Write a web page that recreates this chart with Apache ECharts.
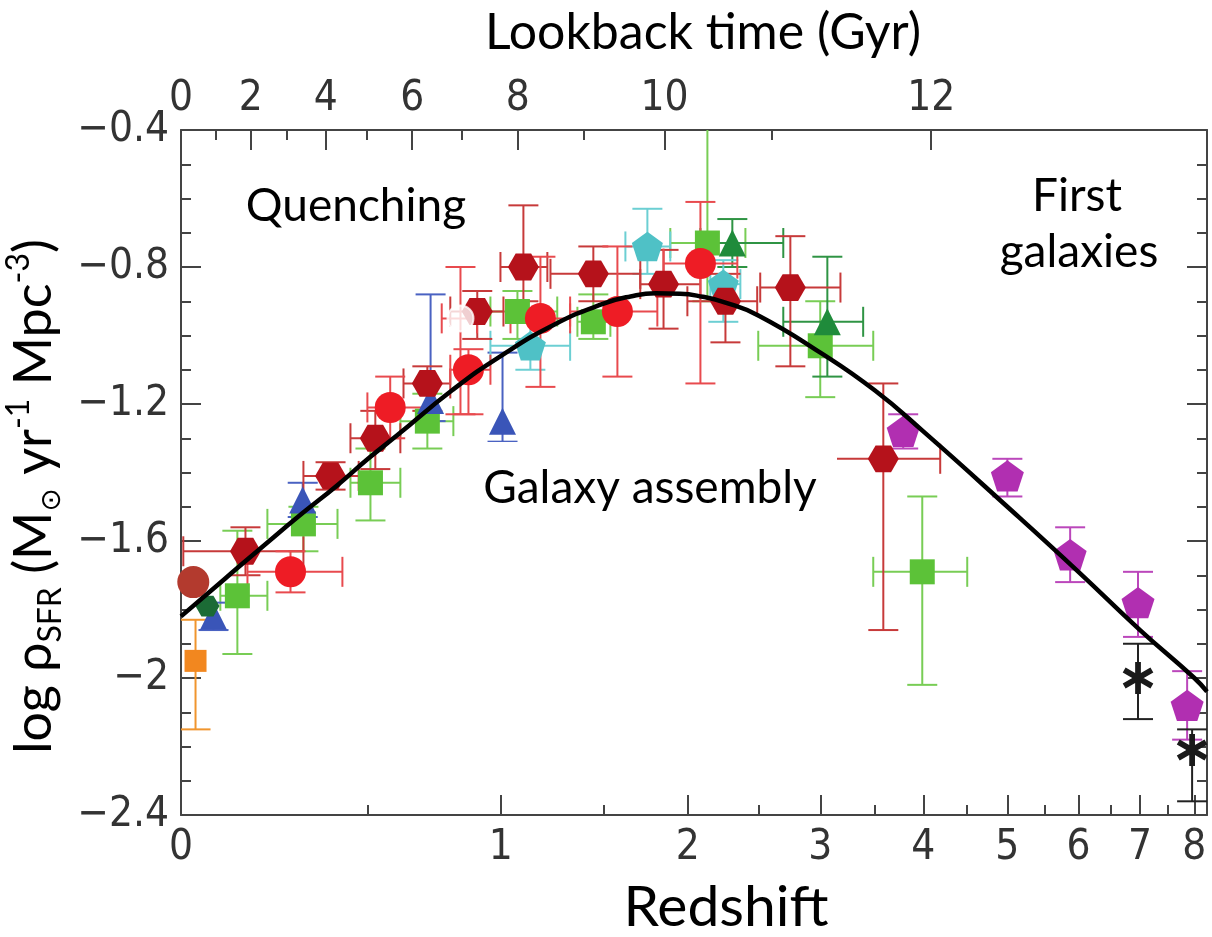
<!DOCTYPE html>
<html>
<head>
<meta charset="utf-8">
<title>Cosmic star formation history</title>
<script src="https://cdn.jsdelivr.net/npm/echarts@6/dist/echarts.min.js"></script>
<style>
  html, body { margin: 0; padding: 0; background: #fff; }
  #main { width: 1212px; height: 937px; }
</style>
</head>
<body>
<div id="main"></div>
<script>
// axis ticks
const zTicks = [0, 1, 2, 3, 4, 5, 6, 7, 8];
const zMinorTicks = [0.5, 1.5, 2.5, 3.5, 4.5, 5.5, 6.5, 7.5];
const zMax = 8.25;
const lookbackGyr = [0, 2, 4, 6, 8, 10, 12];
const lookbackZ = [0, 0.163, 0.369, 0.651, 1.075, 1.853, 4.087];
const lookbackMinorZ = [0.078, 0.259, 0.497, 0.837, 1.393, 2.598];
const yTickMin = -2.4;
const yTickMax = -0.4;
const yTickStep = 0.4;

// best fit curve (log SFRD against redshift)
const curveZ = [0, 0.1, 0.2, 0.3, 0.4, 0.5, 0.6, 0.8, 1.0, 1.25, 1.5, 1.65, 1.8, 1.95, 2.1, 2.25, 2.5, 3.0, 3.5, 4.0, 5.0, 6.0, 7.0, 8.0, 8.25];
const curveLog = [-1.82, -1.71, -1.61, -1.52, -1.44, -1.36, -1.29, -1.16, -1.06, -0.967, -0.907, -0.886, -0.877, -0.878, -0.887, -0.903, -0.942, -1.05, -1.16, -1.28, -1.50, -1.69, -1.86, -2.00, -2.04];

// rows: [z, log SFRD, z low, z high, log low, log high]  (null = no bar)
const redCircles = [
  [0.268, -1.69, 0.155, 0.419, -1.63, -1.75],
  [0.574, -1.21, 0.498, 0.729, -1.12, -1.30],
  [0.865, -1.10, 0.793, 0.956, -1.04, -1.23],
  [1.180, -0.95, 1.043, 1.325, -0.77, -1.15],
  [1.576, -0.93, 1.325, 1.809, -0.74, -1.12],
  [2.084, -0.79, 1.847, 2.341, -0.61, -1.14]
];
const darkRedHex = [
  [0.150, -1.63, 0.005, 0.304, -1.56, -1.70],
  [0.383, -1.41, 0.304, 0.470, -1.37, -1.45],
  [0.524, -1.30, 0.444, 0.609, -1.22, -1.39],
  [0.706, -1.14, 0.620, 0.793, -1.09, -1.22],
  [0.901, -0.93, 0.793, 1.012, -0.87, -1.01],
  [1.101, -0.80, 0.999, 1.213, -0.62, -0.90],
  [1.445, -0.82, 1.228, 1.707, -0.74, -0.90],
  [1.847, -0.85, 1.707, 2.084, -0.75, -0.98],
  [2.256, -0.90, 1.998, 2.488, -0.82, -1.02],
  [2.748, -0.86, 2.511, 3.178, -0.71, -1.09],
  [3.585, -1.36, 3.000, 4.187, -1.14, -1.86]
];
const openRedCircles = [
  [0.833, -0.95, 0.760, 0.900, -0.80, -1.23]
];
const greenSquares = [
  [0.130, -1.76, 0.089, 0.206, -1.57, -1.93],
  [0.304, -1.55, 0.206, 0.404, -1.50, -1.63],
  [0.508, -1.43, 0.444, 0.609, -1.33, -1.54],
  [0.706, -1.25, 0.609, 0.805, -1.17, -1.33],
  [1.074, -0.93, 0.956, 1.261, -0.87, -1.01],
  [1.445, -0.96, 1.362, 1.537, -0.88, -1.01],
  [2.131, -0.73, 1.889, 2.400, -0.35, -0.90],
  [2.999, -1.03, 2.496, 3.486, -0.90, -1.18],
  [3.989, -1.69, 3.486, 4.500, -1.47, -2.02]
];
const darkGreenTri = [
  [2.305, -0.73, 2.084, 2.691, -0.66, -0.80],
  [3.061, -0.96, 2.691, 3.389, -0.77, -1.12]
];
const darkGreenHex = [
  [0.059, -1.79, null, null, null, null]
];
const blueTri = [
  [0.073, -1.82, null, null, -1.78, -1.86],
  [0.302, -1.48, null, null, -1.43, -1.53],
  [0.718, -1.19, null, null, -0.88, -1.25],
  [1.008, -1.25, null, null, -1.05, -1.31]
];
const cyanPent = [
  [1.749, -0.74, 1.621, 1.889, -0.63, -0.82],
  [2.241, -0.85, 2.151, 2.363, -0.78, -0.96],
  [1.133, -1.03, 0.956, 1.325, -0.95, -1.10]
];
const magentaPent = [
  [3.787, -1.28, null, null, -1.23, -1.33],
  [5.000, -1.41, null, null, -1.36, -1.47],
  [5.875, -1.64, null, null, -1.56, -1.72],
  [6.965, -1.78, null, null, -1.69, -1.88],
  [7.860, -2.08, null, null, -1.98, -2.18]
];
const blackStars = [
  [6.965, -2.00, null, null, -1.90, -2.12],
  [7.956, -2.21, null, null, -2.15, -2.36]
];
const orangeSquares = [
  [0.032, -1.95, null, null, -1.83, -2.15]
];
const brownCircles = [
  [0.027, -1.72, null, null, null, null]
];

const lz = z => Math.log10(1 + z);

const HEX = 'path://M-5,-8.66L5,-8.66L10,0L5,8.66L-5,8.66L-10,0Z';
const PENT = 'path://M0,-10L9.51,-3.09L5.88,8.09L-5.88,8.09L-9.51,-3.09Z';
const STAR = 'path://M-1.8,-10L1.8,-10L1.8,10L-1.8,10Z' +
  'M-9.56,-3.44L-7.76,-6.56L9.56,3.44L7.76,6.56Z' +
  'M7.76,-6.56L9.56,-3.44L-7.76,6.56L-9.56,3.44Z';

// error bars with caps, drawn through the axis scales
function barSeries(rows, color) {
  return {
    type: 'custom',
    clip: true,
    silent: true,
    z: 1,
    data: rows.map(r => [lz(r[0]), r[1]]),
    renderItem: function (params, api) {
      const r = rows[params.dataIndex];
      const x = lz(r[0]);
      const cap = 15;
      const style = { stroke: color, lineWidth: 2 };
      const kids = [];
      const seg = (x1, y1, x2, y2) => kids.push({ type: 'line', shape: { x1, y1, x2, y2 }, style });
      if (r[4] != null) {
        const a = api.coord([x, r[4]]);
        const b = api.coord([x, r[5]]);
        seg(a[0], a[1], b[0], b[1]);
        seg(a[0] - cap, a[1], a[0] + cap, a[1]);
        seg(b[0] - cap, b[1], b[0] + cap, b[1]);
      }
      if (r[2] != null) {
        const a = api.coord([lz(r[2]), r[1]]);
        const b = api.coord([lz(r[3]), r[1]]);
        seg(a[0], a[1], b[0], b[1]);
        seg(a[0], a[1] - cap, a[0], a[1] + cap);
        seg(b[0], b[1] - cap, b[0], b[1] + cap);
      }
      return { type: 'group', children: kids };
    }
  };
}

function markSeries(rows, symbol, size, color, extra) {
  return Object.assign({
    type: 'scatter',
    symbol: symbol,
    symbolSize: size,
    symbolKeepAspect: true,
    silent: true,
    z: 3,
    data: rows.map(r => [lz(r[0]), r[1]]),
    itemStyle: { color: color, opacity: 1 }
  }, extra || {});
}

const axisLine = { color: '#444', width: 2 };
const tickFont = {
  fontFamily: '"Liberation Sans Narrow", "DejaVu Sans Condensed", "Liberation Sans", sans-serif',
  fontSize: 42,
  color: '#333'
};
const textFont = 'Lato, "Open Sans", sans-serif';

const option = {
  backgroundColor: '#fff',
  animation: false,
  grid: { left: 181, right: 5, top: 130, bottom: 122, containLabel: false, outerBoundsMode: 'none' },
  xAxis: [
    {
      type: 'value', position: 'bottom', min: 0, max: lz(zMax),
      axisLine: { show: true, onZero: false, lineStyle: axisLine },
      axisTick: { show: true, inside: true, length: 20, lineStyle: axisLine, customValues: zTicks.map(lz) },
      axisLabel: Object.assign({
        customValues: zTicks.map(lz), margin: 12,
        formatter: v => String(Math.round(Math.pow(10, v) - 1))
      }, tickFont),
      splitLine: { show: false }
    },
    {
      type: 'value', position: 'bottom', min: 0, max: lz(zMax),
      axisLine: { show: false, onZero: false },
      axisTick: { show: true, inside: true, length: 10, lineStyle: axisLine, customValues: zMinorTicks.map(lz) },
      axisLabel: { show: false },
      splitLine: { show: false }
    },
    {
      type: 'value', position: 'top', min: 0, max: lz(zMax),
      axisLine: { show: true, onZero: false, lineStyle: axisLine },
      axisTick: { show: true, inside: true, length: 20, lineStyle: axisLine, customValues: lookbackZ.map(lz) },
      axisLabel: Object.assign({
        customValues: lookbackZ.map(lz), margin: 10,
        formatter: v => {
          let best = 0;
          lookbackZ.forEach((z, i) => {
            if (Math.abs(lz(z) - v) < Math.abs(lz(lookbackZ[best]) - v)) best = i;
          });
          return String(lookbackGyr[best]);
        }
      }, tickFont),
      splitLine: { show: false }
    },
    {
      type: 'value', position: 'top', min: 0, max: lz(zMax),
      axisLine: { show: false, onZero: false },
      axisTick: { show: true, inside: true, length: 10, lineStyle: axisLine, customValues: lookbackMinorZ.map(lz) },
      axisLabel: { show: false },
      splitLine: { show: false }
    }
  ],
  yAxis: [
    {
      type: 'value', position: 'left', min: yTickMin, max: yTickMax, interval: yTickStep,
      axisLine: { show: true, onZero: false, lineStyle: axisLine },
      axisTick: { show: true, inside: true, length: 20, lineStyle: axisLine },
      minorTick: { show: true, splitNumber: 4, length: 10, lineStyle: axisLine },
      axisLabel: Object.assign({
        margin: 12,
        formatter: v => String(Math.round(v * 10) / 10).replace('-', '\u2212')
      }, tickFont),
      splitLine: { show: false },
      minorSplitLine: { show: false },
      name: '{t|log }{r|\u03c1}{sub|SFR}{t| (M}{sun|\u2299}{t| yr}{sup|-1}{t| Mpc}{sup|-3}{t|)}',
      nameLocation: 'middle',
      nameRotate: 90,
      nameGap: 104,
      nameTextStyle: {
        padding: [0, 48, 0, 0],
        rich: {
          t: { fontFamily: textFont, fontSize: 52, color: '#000', lineHeight: 64, verticalAlign: 'middle' },
          r: { fontFamily: 'Lato, "DejaVu Sans", sans-serif', fontSize: 52, color: '#000', lineHeight: 64, verticalAlign: 'middle' },
          sub: { fontFamily: textFont, fontSize: 32, color: '#000', lineHeight: 30, verticalAlign: 'bottom' },
          sun: { fontFamily: '"DejaVu Sans", sans-serif', fontSize: 28, color: '#000', lineHeight: 30, verticalAlign: 'bottom' },
          sup: { fontFamily: textFont, fontSize: 32, color: '#000', lineHeight: 24, verticalAlign: 'top' }
        }
      }
    },
    {
      type: 'value', position: 'right', min: yTickMin, max: yTickMax, interval: yTickStep,
      axisLine: { show: true, onZero: false, lineStyle: axisLine },
      axisTick: { show: true, inside: true, length: 20, lineStyle: axisLine },
      minorTick: { show: true, splitNumber: 4, length: 10, lineStyle: axisLine },
      axisLabel: { show: false },
      splitLine: { show: false },
      minorSplitLine: { show: false }
    }
  ],
  graphic: [
    { type: 'text', z: 100, style: { text: 'Lookback time (Gyr)', x: 703, y: 33, textAlign: 'center', textVerticalAlign: 'middle', font: '50px ' + textFont, fill: '#000' } },
    { type: 'text', z: 100, style: { text: 'Redshift', x: 726, y: 908, textAlign: 'center', textVerticalAlign: 'middle', font: '57px ' + textFont, fill: '#000' } },
    { type: 'text', z: 100, style: { text: 'Quenching', x: 356, y: 206, textAlign: 'center', textVerticalAlign: 'middle', font: '46px ' + textFont, fill: '#000' } },
    { type: 'rect', z: 99, shape: { x: 465, y: 442, width: 372, height: 86 }, style: { fill: '#fff' } },
    { type: 'text', z: 100, style: { text: 'Galaxy assembly', x: 650, y: 488, textAlign: 'center', textVerticalAlign: 'middle', font: '46px ' + textFont, fill: '#000' } },
    { type: 'text', z: 100, style: { text: 'First', x: 1077, y: 196, textAlign: 'center', textVerticalAlign: 'middle', font: '46px ' + textFont, fill: '#000' } },
    { type: 'text', z: 100, style: { text: 'galaxies', x: 1079, y: 252, textAlign: 'center', textVerticalAlign: 'middle', font: '46px ' + textFont, fill: '#000' } }
  ],
  series: [
    barSeries(orangeSquares, '#f0952e'),
    barSeries(greenSquares, '#78cd55'),
    barSeries(darkGreenTri, '#2f9444'),
    barSeries(blueTri, '#4a62c2'),
    barSeries(cyanPent, '#6ccfd3'),
    barSeries(magentaPent, '#bb47bb'),
    barSeries(darkRedHex, '#c73a3a'),
    barSeries(redCircles, '#e84a4e'),
    barSeries(openRedCircles, '#e84a4e'),
    barSeries(blackStars, '#222'),
    markSeries(orangeSquares, 'rect', 22, '#f2871f'),
    markSeries(greenSquares, 'rect', 25, '#5cc238'),
    markSeries(blueTri, 'triangle', 27, '#3a55b8'),
    markSeries(cyanPent, PENT, 31, '#4fc1c6'),
    markSeries(darkGreenTri, 'triangle', 27, '#1f8b3b'),
    markSeries(darkGreenHex, HEX, 24, '#1b6b35'),
    markSeries(brownCircles, 'circle', 32, '#b33a2e'),
    markSeries(magentaPent, PENT, 33, '#b12fb1'),
    markSeries(darkRedHex, HEX, 31, '#b5121b'),
    markSeries(redCircles, 'circle', 31, '#ee1c25'),
    markSeries(openRedCircles, 'emptyCircle', 26, '#e8343a', { itemStyle: { color: '#fff', borderColor: '#e8343a', borderWidth: 2 } }),
    markSeries(blackStars, STAR, 32, '#1a1a1a'),
    {
      type: 'line',
      z: 5,
      silent: true,
      smooth: true,
      showSymbol: false,
      data: curveZ.map((z, i) => [lz(z), curveLog[i]]),
      lineStyle: { color: '#000', width: 4.5 }
    }
  ]
};

const chart = echarts.init(document.getElementById('main'), null, { renderer: 'canvas' });
chart.setOption(option);
</script>
</body>
</html>
